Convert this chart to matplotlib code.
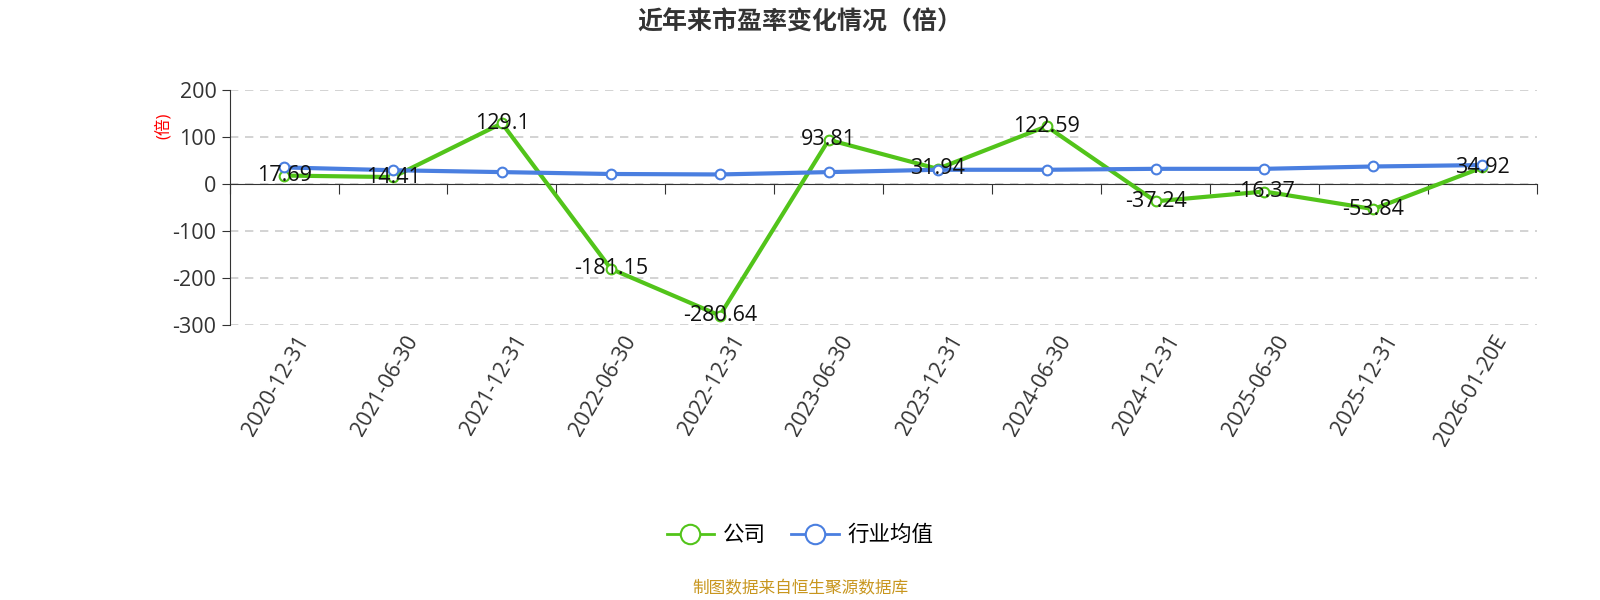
import matplotlib
matplotlib.use("Agg")
import matplotlib.pyplot as plt
from matplotlib.lines import Line2D
import matplotlib.transforms as mtrans

plt.rcParams['font.family'] = ['Open Sans', 'Noto Sans CJK SC', 'DejaVu Sans']

categories = ["2020-12-31","2021-06-30","2021-12-31","2022-06-30","2022-12-31","2023-06-30",
              "2023-12-31","2024-06-30","2024-12-31","2025-06-30","2025-12-31","2026-01-20E"]
company = [17.69, 14.41, 129.1, -181.15, -280.64, 93.81, 31.94, 122.59, -37.24, -16.37, -53.84, 34.92]
industry = [35, 29, 25, 21, 20, 25, 30, 30, 32, 32, 37, 40]
yticks = [200, 100, 0, -100, -200, -300]

green = "#52c41a"
blue = "#4a7fe0"

fig = plt.figure(figsize=(16, 6), dpi=100)
ax = fig.add_axes([0.1435, 0.459, 0.817, 0.391])
x = list(range(len(categories)))

ax.plot(x, company, color=green, lw=3, marker='o', ms=7, mfc='white', mec=green, mew=1.5, zorder=3)
ax.plot(x, industry, color=blue, lw=3, marker='o', ms=7, mfc='white', mec=blue, mew=1.5, zorder=4)
for xi, v in zip(x, company):
    ax.text(xi, v, f"{v:g}", ha='center', va='center', fontsize=15.5, color='#111111', zorder=5)

ax.set_xlim(-0.5, len(categories) - 0.5)
ax.set_ylim(-300, 200)
ax.set_yticks(yticks)
ax.set_yticklabels([str(t) for t in yticks], fontsize=15.5, color='#333333')
ax.yaxis.grid(True, ls=(0, (5, 4)), color='#cccccc', lw=1.2)
ax.set_axisbelow(True)
for s in ['top', 'right']:
    ax.spines[s].set_visible(False)
ax.spines['left'].set_color('#333333')
ax.spines['bottom'].set_position(('data', 0))
ax.spines['bottom'].set_color('#333333')
ax.set_xticks([i + 0.5 for i in range(-1, len(categories))])
ax.set_xticklabels([])
ax.tick_params(axis='x', direction='out', length=7, color='#333333')
ax.tick_params(axis='y', length=6, color='#333333')

trans = mtrans.blended_transform_factory(ax.transData, ax.transAxes)
for xi, c in zip(x, categories):
    ax.text(xi + 0.1, -0.03, c, transform=trans, rotation=60, ha='right', va='top',
            rotation_mode='anchor', fontsize=15.5, color='#333333')

fig.text(0.102, 0.79, "(倍)", rotation=90, color='red', fontsize=12, ha='center', va='center')
fig.text(0.5, 0.962, "近年来市盈率变化情况（倍）", ha='center', va='center', fontsize=18,
         fontweight='bold', color='#333333')

handles = [Line2D([0], [0], color=green, lw=2, marker='o', ms=14, mfc='white', mec=green, mew=1.5),
           Line2D([0], [0], color=blue, lw=2, marker='o', ms=14, mfc='white', mec=blue, mew=1.5)]
fig.legend(handles, ["公司", "行业均值"], loc='center', bbox_to_anchor=(0.5, 0.107), ncol=2,
           frameon=False, fontsize=15.5, handlelength=2.2, columnspacing=1.2, handletextpad=0.4)
fig.text(0.5, 0.018, "制图数据来自恒生聚源数据库", ha='center', va='center', fontsize=12, color='#c8961e')

fig.savefig("out.png")
